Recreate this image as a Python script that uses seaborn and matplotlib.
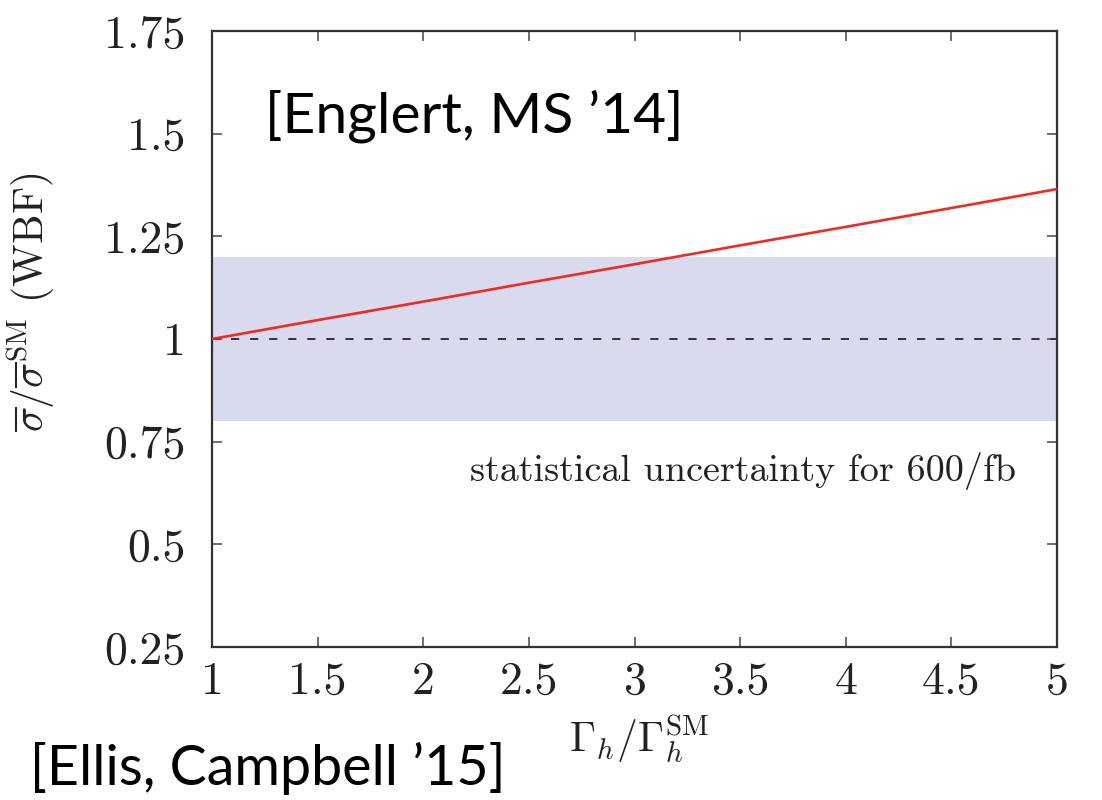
import matplotlib
matplotlib.use("Agg")
import matplotlib.pyplot as plt
import seaborn as sns
import pandas as pd

# data
width_ratio = [1.0, 1.5, 2.0, 2.5, 3.0, 3.5, 4.0, 4.5, 5.0]
xsec_ratio = [1.0, 1.046, 1.091, 1.137, 1.182, 1.228, 1.273, 1.319, 1.365]
band_low, band_high = 0.8, 1.2
sm_ref = 1.0
xticks = [1, 1.5, 2, 2.5, 3, 3.5, 4, 4.5, 5]
xtick_labels = ["1", "1.5", "2", "2.5", "3", "3.5", "4", "4.5", "5"]
yticks = [0.25, 0.5, 0.75, 1.0, 1.25, 1.5, 1.75]
ytick_labels = ["0.25", "0.5", "0.75", "1", "1.25", "1.5", "1.75"]

sns.set_style("ticks")
plt.rcParams["font.family"] = ["cmr10", "DejaVu Serif"]
plt.rcParams["mathtext.fontset"] = "cm"
plt.rcParams["axes.formatter.use_mathtext"] = True

fig = plt.figure(figsize=(11.02, 8.0), dpi=100)
ax = fig.add_axes([212/1102, 1-647/800, (1057-212)/1102, (647-31)/800])

df = pd.DataFrame({"x": width_ratio, "y": xsec_ratio})
ax.axhspan(band_low, band_high, color="#d9daee", lw=0, zorder=0)
ax.axhline(sm_ref, color="#333333", lw=1.4, ls=(0, (4.2, 5.6)), zorder=1)
sns.lineplot(data=df, x="x", y="y", ax=ax, color="#ee2a24", lw=1.9, zorder=3)

ax.set_xlim(1, 5)
ax.set_ylim(0.25, 1.75)
ax.set_xticks(xticks)
ax.set_xticklabels(xtick_labels)
ax.set_yticks(yticks)
ax.set_yticklabels(ytick_labels)

for s in ax.spines.values():
    s.set_color("#333333")
    s.set_linewidth(1.6)
    s.set_visible(True)
ax.tick_params(direction="in", length=7, width=1.2, color="#555555",
               top=True, right=True, labelsize=33, labelcolor="#222222")
ax.tick_params(axis="y", pad=19)
ax.tick_params(axis="x", pad=10)

ax.set_xlabel(r"$\Gamma_h/\Gamma_h^{\rm SM}$", fontsize=30, color="#222222")
ax.set_ylabel(r"$\overline{\sigma}/\overline{\sigma}^{\rm SM}$ (WBF)", fontsize=30, color="#222222")
ax.xaxis.set_label_coords(0.505, -0.105)
ax.yaxis.set_label_coords(-0.183, 0.56)

ax.text(0.951, 0.285, "statistical uncertainty for 600/fb", transform=ax.transAxes,
        ha="right", va="center", fontsize=27.5, color="#222222")

fig.text(265/1102, 1-116/800, "[Englert, MS \u201914]", fontsize=41,
         family=["Lato", "DejaVu Sans"], color="black", va="center", ha="left")
fig.text(30/1102, 1-768/800, "[Ellis, Campbell \u201915]", fontsize=40,
         family=["Lato", "DejaVu Sans"], color="black", va="center", ha="left")

fig.savefig("out.png", dpi=100)
